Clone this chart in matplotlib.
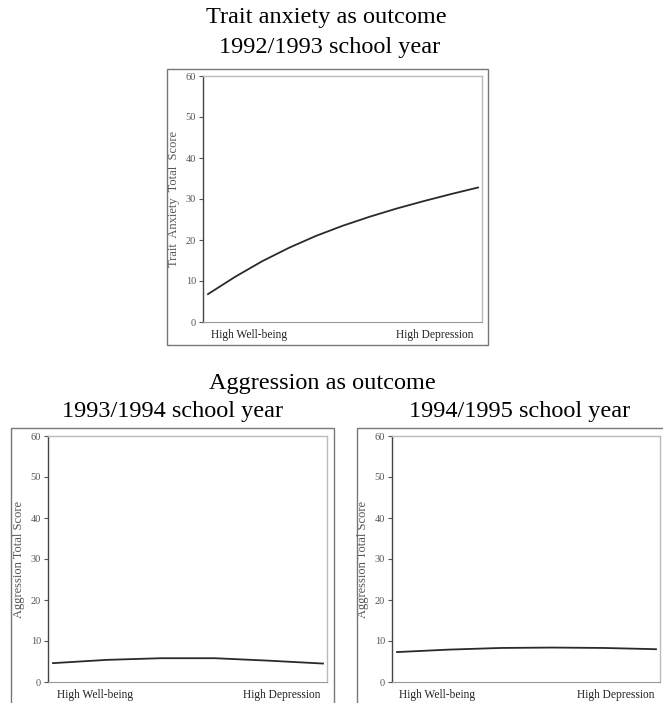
import matplotlib.pyplot as plt
from matplotlib.patches import Rectangle

# values (x: 0 = high well-being, 1 = high depression)
anx_x = [0, 0.1, 0.2, 0.3, 0.4, 0.5, 0.6, 0.7, 0.8, 0.9, 1.0]
anx_y = [6.8, 11.0, 14.8, 18.1, 21.0, 23.5, 25.7, 27.7, 29.5, 31.2, 32.8]

agg_x = [0, 0.2, 0.4, 0.6, 0.8, 1.0]
agg94_y = [4.6, 5.4, 5.8, 5.8, 5.2, 4.5]
agg95_y = [7.3, 7.9, 8.3, 8.4, 8.3, 8.0]

yticks = [0, 10, 20, 30, 40, 50, 60]
end_labels = ["High Well-being", "High Depression"]

plt.rcParams['font.family'] = ['Liberation Serif', 'DejaVu Serif']

W, H = 663, 703
fig = plt.figure(figsize=(W / 100, H / 100), dpi=100)


def fx(px):
    return px / W


def fy(py):
    return 1 - py / H


def panel(left, right, top, bottom, x, y, ylabel, x0, x1, lab_pos):
    ax = fig.add_axes([fx(left), fy(bottom), fx(right - left), (bottom - top) / H])
    ax.plot(x, y, color="#2a2a2a", lw=1.3)
    # pad the x range so the line starts a bit right of the spine
    span = x1 - x0
    ax.set_xlim(-(x0 - left) / span, 1 + (right - x1) / span)
    ax.set_ylim(0, 60)
    ax.set_yticks(yticks)
    ax.set_xticks([])
    ax.tick_params(axis="y", direction="out", length=3, width=0.8,
                   labelsize=7.5, colors="#555555", pad=2)
    ax.set_ylabel(ylabel, fontsize=9, color="#555555", labelpad=4)
    ax.spines["left"].set_color("#444444")
    ax.spines["left"].set_linewidth(1.0)
    ax.spines["bottom"].set_color("#999999")
    for s in ["top", "right"]:
        ax.spines[s].set_color("#bbbbbb")
        ax.spines[s].set_linewidth(1.0)
    for lab, px in zip(end_labels, lab_pos):
        fig.text(fx(px), fy(bottom + 13), lab, ha="center", va="center",
                 fontsize=8.3, color="#222222")
    return ax


def box(left, top, right, bottom):
    fig.patches.append(Rectangle((fx(left), fy(bottom)), fx(right - left), (bottom - top) / H,
                                 transform=fig.transFigure, fill=False,
                                 edgecolor="#777777", lw=1.0))


# top panel: trait anxiety
box(167, 69, 488, 345)
panel(203, 482, 76, 322, anx_x, anx_y, "Trait  Anxiety  Total  Score",
      208, 478, [249, 435])

# bottom panels: aggression
box(11, 428, 334, 720)
panel(48, 327, 436, 682, agg_x, agg94_y, "Aggression Total Score",
      53, 323, [95, 282])

box(357, 428, 680, 720)
panel(392, 660, 436, 682, agg_x, agg95_y, "Aggression Total Score",
      397, 656, [437, 616])

# titles
fs = 17.5
fig.text(fx(326), fy(17), "Trait anxiety as outcome", ha="center", va="center", fontsize=fs)
fig.text(fx(330), fy(48), "1992/1993 school year", ha="center", va="center", fontsize=fs)
fig.text(fx(322), fy(383), "Aggression as outcome", ha="center", va="center", fontsize=fs)
fig.text(fx(172), fy(412), "1993/1994 school year", ha="center", va="center", fontsize=fs)
fig.text(fx(520), fy(412), "1994/1995 school year", ha="center", va="center", fontsize=fs)

fig.savefig("out.png", dpi=100)
